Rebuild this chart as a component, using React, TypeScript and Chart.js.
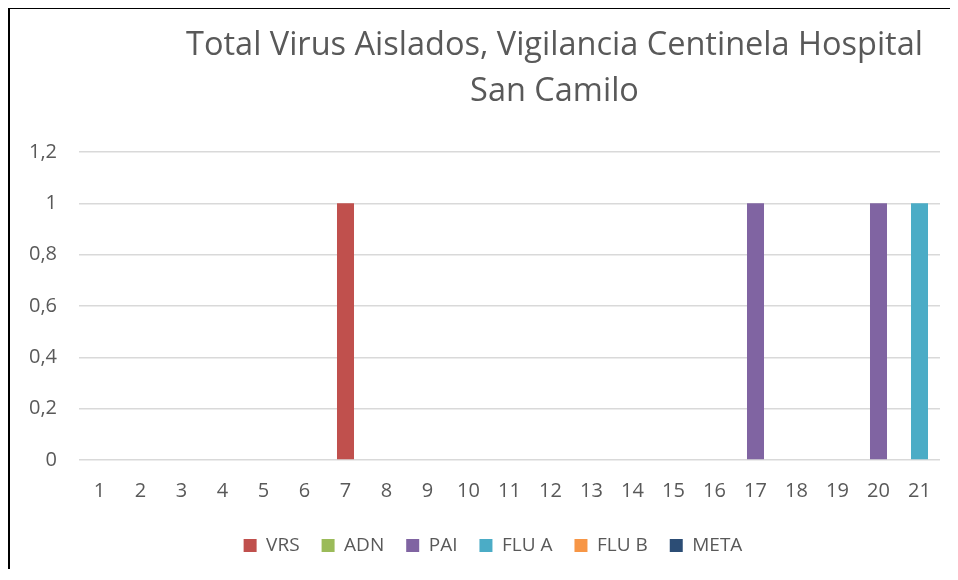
import React, { useEffect, useRef } from "react";
import { Chart, registerables } from "chart.js";

Chart.register(...registerables);

const categories = ["1","2","3","4","5","6","7","8","9","10","11","12","13","14","15","16","17","18","19","20","21"];
const vrs   = [0,0,0,0,0,0,1,0,0,0,0,0,0,0,0,0,0,0,0,0,0];
const adn   = [0,0,0,0,0,0,0,0,0,0,0,0,0,0,0,0,0,0,0,0,0];
const pai   = [0,0,0,0,0,0,0,0,0,0,0,0,0,0,0,0,1,0,0,1,0];
const fluA  = [0,0,0,0,0,0,0,0,0,0,0,0,0,0,0,0,0,0,0,0,1];
const fluB  = [0,0,0,0,0,0,0,0,0,0,0,0,0,0,0,0,0,0,0,0,0];
const meta  = [0,0,0,0,0,0,0,0,0,0,0,0,0,0,0,0,0,0,0,0,0];
const yTickLabels = ["0","0,2","0,4","0,6","0,8","1","1,2"];
const titleLines = ["Total Virus Aislados, Vigilancia Centinela Hospital", "San Camilo"];

const FONT = "'Open Sans', sans-serif";
const TEXT = "#595959";

const titlePlugin = {
  id: "excelTitle",
  afterDraw(chart: any) {
    const { ctx, chartArea } = chart;
    ctx.save();
    ctx.fillStyle = TEXT;
    ctx.font = `32.5px ${FONT}`;
    ctx.textAlign = "center";
    ctx.textBaseline = "middle";
    const cx = (chartArea.left + chartArea.right) / 2 + 45;
    titleLines.forEach((t, i) => ctx.fillText(t, cx, 37 + i * 46));
    ctx.restore();
  },
};

export default function App() {
  const ref = useRef<HTMLCanvasElement>(null);
  useEffect(() => {
    if (!ref.current) return;
    const chart = new Chart(ref.current, {
      type: "bar",
      data: {
        labels: categories,
        datasets: [
          { label: "VRS", data: vrs, backgroundColor: "#c0504d" },
          { label: "ADN", data: adn, backgroundColor: "#9bbb59" },
          { label: "PAI", data: pai, backgroundColor: "#8064a2" },
          { label: "FLU A", data: fluA, backgroundColor: "#4bacc6" },
          { label: "FLU B", data: fluB, backgroundColor: "#f79646" },
          { label: "META", data: meta, backgroundColor: "#2c4d75" },
        ],
      },
      options: {
        animation: false,
        responsive: false,
        maintainAspectRatio: false,
        layout: { padding: { top: 143, left: 18, right: 0, bottom: 4 } },
        datasets: { bar: { categoryPercentage: 1, barPercentage: 0.415, borderWidth: 0 } },
        scales: {
          x: {
            stacked: true,
            grid: { display: false },
            border: { display: false },
            ticks: { color: TEXT, font: { family: FONT, size: 20 }, padding: 11, maxRotation: 0, autoSkip: false },
          },
          y: {
            stacked: true,
            min: 0,
            max: 1.2,
            grid: { color: "#d9d9d9", lineWidth: 1.5, drawTicks: false },
            border: { display: false },
            ticks: {
              stepSize: 0.2,
              color: TEXT,
              font: { family: FONT, size: 20 },
              padding: 22,
              callback: (_v: any, i: number) => yTickLabels[i],
            },
            afterFit: (s: any) => { s.width = 51; },
          },
          yRight: {
            position: "right",
            display: true,
            grid: { display: false },
            border: { display: false },
            ticks: { display: false },
            afterFit: (s: any) => { s.width = 18; },
          },
        },
        plugins: {
          title: { display: false },
          tooltip: { enabled: false },
          legend: {
            position: "bottom",
            labels: {
              color: TEXT,
              font: { family: FONT, size: 19 },
              boxWidth: 13,
              boxHeight: 13,
              padding: 22,
            },
          },
        },
      },
      plugins: [titlePlugin],
    });
    return () => chart.destroy();
  }, []);
  return (
    <div style={{ borderLeft: "2px solid #000", borderTop: "2px solid #000", width: 948, height: 560, marginTop: -1 }}>
      <canvas ref={ref} width={948} height={560} style={{ display: "block" }} />
    </div>
  );
}
